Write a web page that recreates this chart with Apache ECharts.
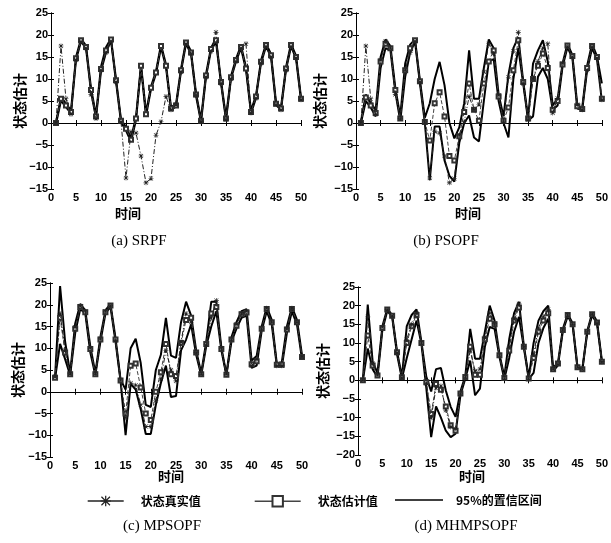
<!DOCTYPE html>
<html><head><meta charset="utf-8">
<script src="https://cdn.jsdelivr.net/npm/echarts@6/dist/echarts.min.js"></script>
<style>html,body{margin:0;padding:0;background:#fff}#c{width:611px;height:543px}</style>
</head><body><div id="c"></div>
<script>
// time steps 1..50
const time = Array.from({length: 50}, (_, i) => i + 1);

// (a)/(b) share the same true state trajectory
const trueAB = [0, 17.5, 5.5, 2, 14.3, 18.5, 17, 6.5, 1, 12, 16, 18.6, 9.3, 0.3, -12.5, -2, -2.3, -7.5, -13.6, -12.6, -2.8, 0.3, 6, 3, 4.2, 11.6, 18, 15.8, 6.3, 0.3, 10.4, 16.3, 20.6, 9, 0.8, 10, 14, 17, 18, 2.3, 5.6, 13.6, 17.4, 15, 4.2, 3, 12, 17.4, 14.8, 5.3];

// (a) SRPF
const estA = [0, 5.5, 4, 2.5, 14.7, 18.8, 17.3, 7.5, 1.5, 12.3, 16.5, 19, 9.7, 0.5, -1.3, -3.8, 1, 13, 2, 8, 11.5, 17.5, 13, 3.3, 4, 12, 18.3, 16, 6.5, 0.5, 10.8, 16.8, 18.8, 9.3, 1, 10.4, 14.3, 17.3, 12.4, 2.5, 6, 13.9, 17.7, 15.4, 4.4, 3.3, 12.4, 17.7, 15, 5.5];
const upperA = [0.2, 5.9, 4.4, 2.8, 15, 19.1, 17.6, 7.9, 1.8, 12.8, 17.2, 19.2, 10, 0.8, -0.9, -3.4, 1.3, 13.3, 2.4, 8.3, 11.8, 17.8, 13.3, 3.6, 4.3, 12.3, 18.6, 16.3, 6.8, 0.8, 11.1, 17.1, 19.1, 9.6, 1.3, 10.7, 14.6, 17.6, 12.7, 2.8, 6.3, 14.2, 18, 15.7, 4.7, 3.6, 12.7, 18, 15.3, 5.8];
const lowerA = [-0.2, 5.1, 3.6, 2.2, 14.4, 18.5, 17, 7.1, 1.2, 11.8, 16, 18.8, 9.4, 0.2, -1.7, -4.2, 0.7, 12.7, 1.6, 7.7, 11.2, 17.2, 12.7, 3, 3.7, 11.7, 18, 15.7, 6.2, 0.2, 10.5, 16.5, 18.5, 9, 0.7, 10.1, 14, 17, 12.1, 2.2, 5.7, 13.6, 17.4, 15.1, 4.1, 3, 12.1, 17.4, 14.7, 5.2];

// (b) PSOPF
const estB = [0, 5.8, 4, 2.3, 14, 18, 17, 7.5, 1, 12, 17, 18.8, 9.5, 0.2, -4, 4.5, 7, 1.5, -7.5, -8.5, -3, 2.5, 9, 3, 0.5, 9, 14, 16.5, 6, 0.5, 3.5, 12, 18.8, 9.3, 1, 10, 13, 15.8, 12.5, 3, 5, 13.3, 17.6, 15.2, 3.8, 3.2, 12.5, 17.5, 15, 5.5];
const upperB = [0.3, 6.5, 4.5, 3, 15, 19, 17.5, 8, 1.5, 13.5, 17.8, 19, 9.7, 1.2, 4.5, 10, 13.9, 8.6, 0, -3.5, -1, 4.5, 16.5, 5.5, 5.5, 12.5, 19, 17, 6.5, 1.5, 11, 17, 19.5, 9.5, 1.2, 13.5, 16.5, 18.8, 14, 4, 5.5, 13.5, 18, 15.5, 4, 3.5, 13, 18, 15.2, 9];
const lowerB = [0, 5, 3.5, 1.5, 12.5, 17, 16.5, 7, 0.5, 10.5, 16, 18.5, 9, 0, -13, -0.8, -0.8, -8.5, -12, -13.3, -4.5, 0, 1.7, -3.3, -4.2, 5, 14, 14.5, 5, 0, -3.3, 10, 17, 9, 0.6, 1.5, 10.5, 12.5, 10, 3, 4, 12.8, 17.2, 14.8, 3.3, 3, 12, 17, 14.5, 5];

// (c) MPSOPF
const trueC = [3.5, 18, 9.5, 4.2, 14.8, 19.7, 18.5, 10, 4.2, 12.2, 18.5, 19.8, 11.8, 2.7, -6, 2, 1.5, -3, -8, -8, -2, 3, 9.5, 5, 2.5, 11.5, 18, 16, 9, 4, 10.8, 17, 21, 10, 4, 12, 15.5, 18, 18.5, 6, 7.5, 14.5, 19.2, 16, 6, 6, 14.5, 19.2, 16, 8];
const estC = [3.2, 17, 9, 4, 14.5, 19.5, 18.3, 9.8, 4, 12, 18.3, 19.8, 12, 2.6, -5, 6, 6.5, 1, -5, -6.5, 0, 4.5, 11, 4, 3.6, 11.2, 16.5, 17, 9, 4, 11, 18, 19.5, 9.8, 3.9, 12, 15.2, 17.8, 18.2, 6.3, 7, 14.5, 19, 16, 6.2, 6.2, 14.3, 19, 16, 8];
const upperC = [3.3, 24.3, 11.5, 4.3, 15.7, 20.2, 18.7, 10.4, 4.3, 12.6, 18.7, 20.2, 12.3, 2.8, 0.5, 10, 12.2, 6.6, -3, -3.5, 5, 8.5, 17, 8.3, 7.8, 16, 20.7, 17.5, 9.5, 4.3, 11.5, 20.7, 20.7, 10.2, 4, 12.5, 16, 18.5, 19, 7.2, 8.2, 15, 19.5, 16.5, 6.5, 6.8, 15, 19.5, 16.5, 8.5];
const lowerC = [3, 11, 7.5, 3.8, 13.5, 19, 18, 9, 3.8, 11.5, 18, 19.5, 11.5, 2.5, -10, 1.8, 0.5, -4, -9.7, -9.7, -3, 2, 6, -1.2, -1, 9.5, 12, 15.5, 8.5, 3.8, 10.5, 15, 18.5, 9.5, 3.8, 11.5, 14.5, 17, 17.5, 5.5, 6, 14, 18.5, 15.5, 6, 5.8, 13.5, 18.5, 15.5, 7.5];

// (d) MHMPSOPF
const trueD = [0, 17, 4.5, 1.5, 14.2, 19, 17.2, 7.3, 0.7, 11, 15, 18, 10, -0.8, -10, -2, -1.5, -8, -12.5, -13, -3.6, 0.9, 8, 2.5, 3, 11.5, 18, 15.2, 6.7, 0.5, 9, 16.5, 20.5, 9, 0.5, 7, 14, 17, 19, 3, 4.5, 13.5, 17.5, 15, 3.5, 3, 13, 17.7, 15.5, 5];
const estD = [0, 12, 4, 1.3, 14, 19, 17.3, 7.5, 0.8, 10, 14.5, 17.5, 10, -0.5, -9, -1, -2.5, -7, -12, -13.5, -3.5, 0.9, 9, 1.5, 1.5, 11, 16.5, 15, 6.7, 0.6, 8, 16, 19.5, 9, 0.5, 6, 13, 16, 18, 3, 4.5, 13.5, 17.5, 15, 3.5, 3, 13, 17.7, 15.5, 5];
const upperD = [0, 20.3, 5, 2, 14.5, 19.2, 17.5, 7.8, 1, 14.5, 17.5, 19, 10.3, 1, -3, 3, 3.3, -2.7, -7.1, -9.8, -3, 1.2, 13.8, 5.8, 5.8, 12.9, 20, 16, 7, 1, 11, 18, 21, 9.3, 0.8, 10, 16, 18.5, 20, 3.3, 4.8, 13.8, 17.8, 15.3, 3.6, 3.2, 13.2, 18, 15.8, 5.3];
const lowerD = [0, 8.5, 3, 0.8, 13.5, 18.6, 17, 7, 0.5, 6, 11, 16, 9.8, -2, -15.2, -7, -10, -13.5, -15.2, -14.3, -4, 0.5, 5.3, -4, -2.2, 8.9, 14.3, 13.8, 6.3, 0.3, 6, 13, 17, 8.8, 0.3, 2, 10, 14, 16.5, 2.5, 4, 13.2, 17.2, 14.8, 3.2, 2.8, 12.8, 17.4, 15.2, 4.8];

const captions = ['(a) SRPF', '(b) PSOPF', '(c) MPSOPF', '(d) MHMPSOPF'];
const nameTrue = '状态真实值', nameEst = '状态估计值', nameCI = '95%的置信区间';

const STAR = 'path://M4.4,0H5.6V10H4.4Z M0,4.4H10V5.6H0Z M1.3,0.5L9.5,8.7L8.7,9.5L0.5,1.3Z M8.7,0.5L9.5,1.3L1.3,9.5L0.5,8.7Z';

const panels = [
  {grid: {left: 51, top: 13, width: 250, height: 176}, yMin: -15, yMax: 25, up: upperA, lo: lowerA, est: estA, tru: trueAB,
   cap: [139, 241], xl: [128, 213], yl: 20},
  {grid: {left: 356, top: 13, width: 247, height: 176}, yMin: -15, yMax: 25, up: upperB, lo: lowerB, est: estB, tru: trueAB,
   cap: [446, 241], xl: [468, 213], yl: 320},
  {grid: {left: 50, top: 283, width: 252, height: 174}, yMin: -15, yMax: 25, up: upperC, lo: lowerC, est: estC, tru: trueC,
   cap: [162, 526], xl: [171, 476], yl: 18},
  {grid: {left: 358, top: 287, width: 245, height: 168}, yMin: -20, yMax: 25, up: upperD, lo: lowerD, est: estD, tru: trueD,
   cap: [466, 526], xl: [472, 476], yl: 323}
];

const pair = arr => time.map((t, i) => [t, arr[i]]);
const tickFont = {color: '#000', fontSize: 11, fontWeight: 'bold', fontFamily: 'Liberation Sans'};
const cjkFont = 'Noto Sans CJK SC';

const grids = [], xAxes = [], yAxes = [], series = [], graphics = [];
panels.forEach((p, i) => {
  grids.push(p.grid);
  const axLine = {show: true, lineStyle: {color: '#000', width: 1}};
  const tick = {show: true, inside: true, length: 3, lineStyle: {color: '#000'}};
  xAxes.push({type: 'value', gridIndex: i, min: 0, max: 50, interval: 5, position: 'bottom',
    axisLine: axLine, axisTick: tick, splitLine: {show: false},
    axisLabel: Object.assign({margin: 3}, tickFont)});
  yAxes.push({type: 'value', gridIndex: i, min: p.yMin, max: p.yMax, interval: 5, position: 'left',
    axisLine: axLine, axisTick: tick, splitLine: {show: false},
    axisLabel: Object.assign({margin: 3, formatter: v => String(v).replace('-', '−')}, tickFont)});
  series.push(
    {type: 'line', name: nameCI, xAxisIndex: i, yAxisIndex: i, data: pair(p.up), showSymbol: false, symbol: 'none',
     lineStyle: {color: '#000', width: 2}, itemStyle: {color: '#000'}, z: 3},
    {type: 'line', name: nameCI, xAxisIndex: i, yAxisIndex: i, data: pair(p.lo), showSymbol: false, symbol: 'none',
     lineStyle: {color: '#000', width: 2}, itemStyle: {color: '#000'}, z: 3},
    {type: 'line', name: nameEst, xAxisIndex: i, yAxisIndex: i, data: pair(p.est), symbol: 'emptyRect', symbolSize: 4,
     lineStyle: {color: '#444', width: 1, type: [4, 2]}, itemStyle: {color: '#333', borderWidth: 0.9}, z: 4},
    {type: 'line', name: nameTrue, xAxisIndex: i, yAxisIndex: i, data: pair(p.tru), symbol: STAR, symbolSize: 5,
     lineStyle: {color: '#222', width: 1, type: [5, 2, 1, 2]}, itemStyle: {color: '#222'}, z: 5}
  );
  graphics.push(
    {type: 'text', x: p.cap[0], y: p.cap[1], style: {text: captions[i], fill: '#000', font: '15px "Liberation Serif"', textAlign: 'center', textVerticalAlign: 'middle'}},
    {type: 'text', x: p.xl[0], y: p.xl[1], style: {text: '时间', fill: '#000', font: 'bold 13px "' + cjkFont + '"', textAlign: 'center', textVerticalAlign: 'middle'}},
    {type: 'text', x: p.yl, y: p.grid.top + p.grid.height / 2, rotation: Math.PI / 2,
     style: {text: '状态估计', fill: '#000', font: 'bold 14px "' + cjkFont + '"', textAlign: 'center', textVerticalAlign: 'middle'}}
  );
});
// mirror axes on top/right (ticks only)
panels.forEach((p, i) => {
  xAxes.push({type: 'value', gridIndex: i, min: 0, max: 50, interval: 5, position: 'top',
    axisLine: {show: true, lineStyle: {color: '#000'}}, axisTick: {show: true, inside: true, length: 3, lineStyle: {color: '#000'}},
    axisLabel: {show: false}, splitLine: {show: false}});
  yAxes.push({type: 'value', gridIndex: i, min: p.yMin, max: p.yMax, interval: 5, position: 'right',
    axisLine: {show: true, lineStyle: {color: '#000'}}, axisTick: {show: true, inside: true, length: 3, lineStyle: {color: '#000'}},
    axisLabel: {show: false}, splitLine: {show: false}});
});

const legText = {color: '#000', fontSize: 12, fontWeight: 'bold', fontFamily: cjkFont, padding: [0, 0, 0, 12]};
const legBase = {top: 490, itemHeight: 13, selectedMode: false, textStyle: legText};

const chart = echarts.init(document.getElementById('c'), null, {renderer: 'canvas'});
chart.setOption({
  animation: false,
  backgroundColor: '#fff',
  grid: grids,
  xAxis: xAxes,
  yAxis: yAxes,
  legend: [
    Object.assign({}, legBase, {left: 82, itemWidth: 36, data: [nameTrue], lineStyle: {type: 'solid', width: 1.4}, itemStyle: {borderWidth: 0}}),
    Object.assign({}, legBase, {left: 249, itemWidth: 46, data: [nameEst], lineStyle: {type: 'solid', width: 1.4}, itemStyle: {borderWidth: 1.6}}),
    Object.assign({}, legBase, {left: 390, top: 489, itemWidth: 48, itemHeight: 1.5, data: [{name: nameCI, icon: 'rect'}], textStyle: Object.assign({}, legText, {padding: [0, 0, 0, 8]})})
  ],
  series: series,
  graphic: graphics
});
</script></body></html>
